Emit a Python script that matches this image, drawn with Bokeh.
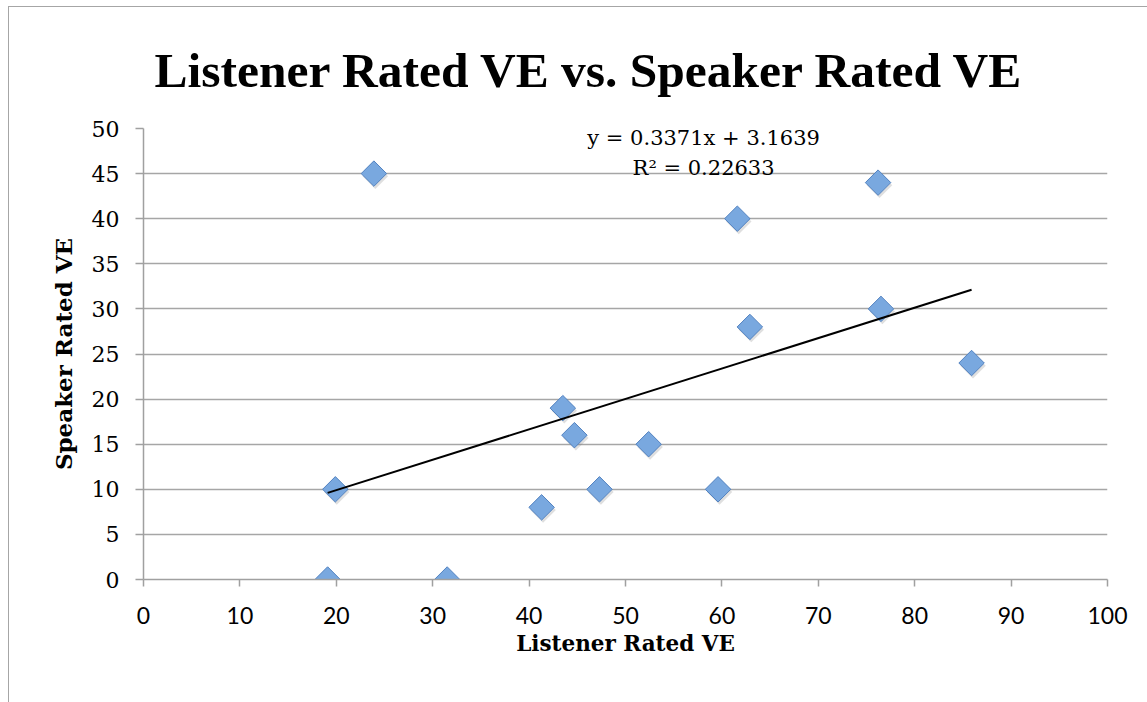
import numpy as np
from bokeh.plotting import figure
from bokeh.models import Range1d, Label, FixedTicker, ColumnDataSource
from bokeh.embed import file_html
from bokeh.resources import INLINE
from bokeh.transform import dodge

# ---- data ----
listener_ve = [19.9, 19.1, 23.9, 31.5, 41.3, 43.5, 44.7, 47.3, 52.4, 59.6, 61.6, 62.9, 76.2, 76.5, 85.9]
speaker_ve = [10, 0, 45, 0, 8, 19, 16, 10, 15, 10, 40, 28, 44, 30, 24]
x_ticks = [0, 10, 20, 30, 40, 50, 60, 70, 80, 90, 100]
y_ticks = [0, 5, 10, 15, 20, 25, 30, 35, 40, 45, 50]
slope = 0.3371
intercept = 3.1639
r_squared = 0.22633

title_text = "Listener Rated VE vs. Speaker Rated VE"
x_label = "Listener Rated VE"
y_label = "Speaker Rated VE"

src = ColumnDataSource(dict(x=listener_ve, y=speaker_ve))

p = figure(width=1139, height=696,
           x_range=Range1d(x_ticks[0], x_ticks[-1]),
           y_range=Range1d(y_ticks[0], y_ticks[-1]),
           output_backend="svg", toolbar_location=None,
           min_border_left=134, min_border_right=41,
           min_border_top=121, min_border_bottom=124)
p.styles = {"margin-left": "8px", "margin-top": "6px",
            "border-left": "1px solid #a6a6a6", "border-top": "1px solid #a6a6a6"}
p.outline_line_color = None
p.background_fill_color = "white"
p.border_fill_color = "white"

# title
p.title.text = title_text
p.title.text_font = "Liberation Serif"
p.title.text_font_style = "bold"
p.title.text_font_size = "49.5px"
p.title.text_color = "black"
p.title.align = "left"
p.title.offset = 11
p.title.standoff = 61

# grid
p.xgrid.visible = False
p.ygrid.ticker = FixedTicker(ticks=y_ticks)
p.ygrid.grid_line_color = "#a6a6a6"
p.ygrid.grid_line_width = 1.5

# axes
for ax in (p.xaxis[0], p.yaxis[0]):
    ax.axis_line_color = "#a0a0a0"
    ax.axis_line_width = 1.5
    ax.major_tick_line_color = "#a0a0a0"
    ax.major_tick_line_width = 1.5
    ax.major_tick_in = 0
    ax.minor_tick_line_color = None
    ax.major_label_text_color = "black"
    ax.axis_label_text_color = "black"
    ax.axis_label_text_font = "DejaVu Serif"
    ax.axis_label_text_font_style = "bold"

p.xaxis.ticker = FixedTicker(ticks=x_ticks)
p.xaxis.major_tick_out = 7
p.xaxis.major_label_text_font = "Lato"
p.xaxis.major_label_text_font_size = "23px"
p.xaxis.major_label_standoff = 20
p.xaxis.axis_label = x_label
p.xaxis.axis_label_text_font_size = "21.5px"
p.xaxis.axis_label_standoff = 4

p.yaxis.ticker = FixedTicker(ticks=y_ticks)
p.yaxis.major_tick_out = 8
p.yaxis.major_label_text_font = "DejaVu Serif"
p.yaxis.major_label_text_font_size = "22px"
p.yaxis.major_label_standoff = 16
p.yaxis.axis_label = y_label
p.yaxis.axis_label_text_font_size = "23px"
p.yaxis.axis_label_standoff = 12

# markers: shadow then diamond
p.scatter(x=dodge("x", 0.15, range=p.x_range), y=dodge("y", -0.3, range=p.y_range), source=src,
          marker="square", size=18, angle=np.pi / 4,
          fill_color="#808080", fill_alpha=0.25, line_color=None)
p.scatter(x="x", y="y", source=src, marker="square", size=18, angle=np.pi / 4,
          fill_color="#79a8df", line_color="#5282c0", line_width=1)

# trend line
tx = np.array([min(listener_ve), max(listener_ve)])
p.line(tx, slope * tx + intercept, line_color="black", line_width=2)

# equation
p.add_layout(Label(x=58.1, y=48.95, text=f"y = {slope}x + {intercept}",
                   text_align="center", text_baseline="alphabetic",
                   text_font="DejaVu Serif", text_font_size="21px", text_color="black"))
p.add_layout(Label(x=58.1, y=45.6, text=f"R\u00b2 = {r_squared}",
                   text_align="center", text_baseline="alphabetic",
                   text_font="DejaVu Serif", text_font_size="21px", text_color="black"))

open("out.html", "w").write(file_html(p, INLINE))
